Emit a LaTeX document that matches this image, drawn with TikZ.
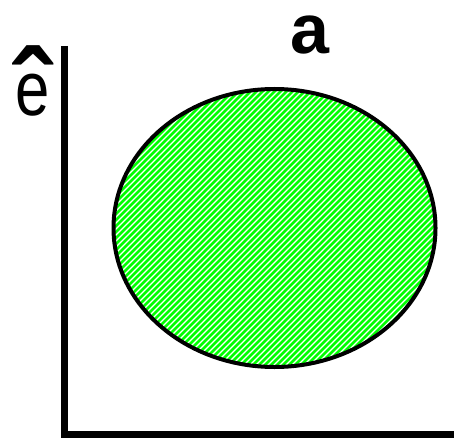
\documentclass[tikz,border=0pt]{standalone}
\usepackage{fontspec}
\setmainfont{Liberation Sans}
\definecolor{stripegreen}{RGB}{0,255,0}
\tikzset{
  axisline/.style={line width=7pt, line join=miter, black},
  outline/.style={line width=4pt, black},
  stripe/.style={line width=2.6pt, stripegreen},
  bigtext/.style={inner sep=0pt, font=\fontsize{77}{77}\selectfont},
}
\newcommand\hatted[1]{%
  \rlap{\hspace*{15.65pt}\makebox[0pt]{\smash{\raisebox{-15.1pt}{\fontsize{115}{115}\bfseries ˆ}}}}%
  \scalebox{0.8}[1]{#1}}
\begin{document}
\begin{tikzpicture}[x=1pt,y=-1pt]
\useasboundingbox (0,0) rectangle (454,438);
% axes
\coordinate (top) at (64.5,46);
\coordinate (corner) at (64.5,434.5);
\coordinate (right) at (454,434.5);
\draw[axisline] (top) -- (corner) -- (right);
% hatched ellipse
\coordinate (c) at (274.5,228);
\begin{scope}
  \clip (c) ellipse [x radius=161pt, y radius=139pt];
  \fill[white] (c) ellipse [x radius=161pt, y radius=139pt];
  \foreach \k in {-300,-294,...,600} {
    \draw[stripe] (\k,420) -- ({\k+420},0);
  }
\end{scope}
\draw[outline] (c) ellipse [x radius=161pt, y radius=139pt];
% labels
\node[bigtext, anchor=base] (e) at (33,116) {\hatted{e}};
\node[inner sep=0pt, font=\fontsize{70}{70}\bfseries\selectfont, anchor=base] (a) at (309.5,54) {a};
\end{tikzpicture}
\end{document}
